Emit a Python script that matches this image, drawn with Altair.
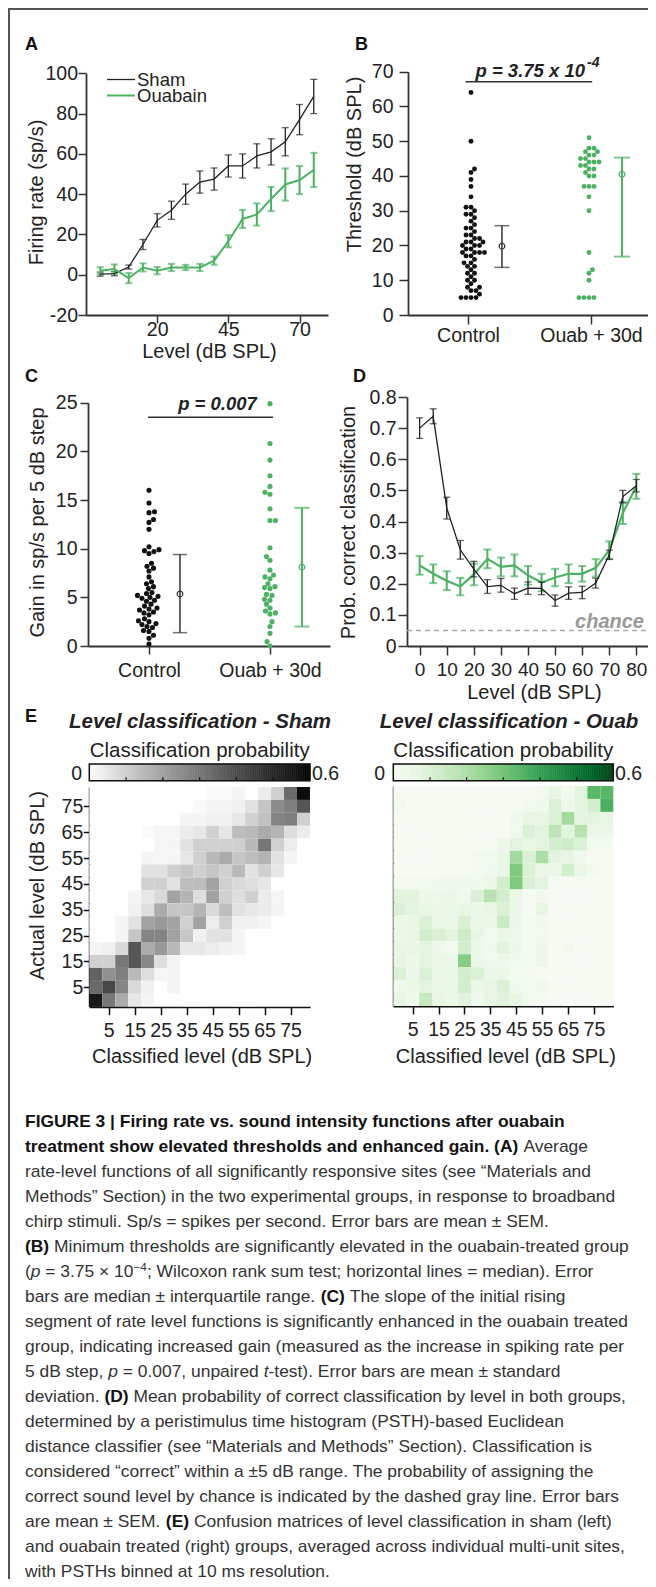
import altair as alt
import numpy as np
import pandas as pd

W, H = 640, 1571
FONT = "Liberation Sans"
CAP_FONT = "Liberation Sans"
BLACK = "#222222"
GREEN = "#4cb162"

# ---------------- data ----------------
A_LEVEL = [0, 5, 10, 15, 20, 25, 30, 35, 40, 45, 50, 55, 60, 65, 70, 75]
A_SHAM = [0.3, 0.5, 3.8, 15.0, 27.0, 32.0, 40.0, 46.0, 47.5, 54.0, 54.0, 59.0, 61.0, 66.0, 77.0, 88.5]
A_SHAM_ERR = [1.0, 1.0, 1.0, 2.5, 3.3, 4.5, 5.0, 5.5, 5.5, 5.5, 6.0, 6.0, 6.5, 7.0, 7.5, 8.5]
A_OUAB = [2.0, 2.8, -1.7, 3.6, 2.0, 3.6, 3.6, 3.6, 7.0, 16.6, 27.7, 29.9, 37.6, 44.8, 47.0, 52.0]
A_OUAB_ERR = [1.7, 2.3, 2.5, 2.0, 1.8, 1.8, 1.3, 1.8, 2.0, 3.0, 4.5, 5.5, 6.0, 8.0, 7.0, 8.5]

B_CTRL = [64, 50, 42, 41, 39, 37, 34, 31, 31, 30, 29, 29, 28, 27, 26, 25, 25, 24, 23, 23, 22, 22,
          21, 21, 21, 20, 20, 20, 19, 19, 18, 18, 18, 18, 17, 17, 16, 15, 15, 14, 14, 13, 12, 12,
          11, 10, 10, 9, 8, 8, 7, 7, 6, 5, 5, 5, 5]
B_OUAB = [51, 48, 48, 47, 47, 46, 46, 45, 45, 44, 44, 44, 43, 43, 42, 42, 41, 40, 40, 37, 37, 37,
          34, 30, 18, 13, 12, 10, 5, 5, 5, 5]
B_SUMMARY = {"ctrl": (19.8, 13.7, 25.7), "ouab": (40.5, 16.8, 45.3)}   # median, q1, q3

C_CTRL = [16.0, 14.7, 13.8, 13.7, 13.0, 12.7, 12.0, 10.2, 9.9, 9.8, 9.7, 9.5, 8.5, 8.2, 8.0, 7.7,
          7.1, 6.6, 6.4, 6.1, 5.9, 5.5, 5.4, 5.2, 5.1, 5.0, 4.9, 4.7, 4.6, 4.3, 4.1, 3.9, 3.8, 3.7,
          3.5, 3.4, 3.2, 2.8, 2.6, 2.5, 2.3, 2.2, 2.0, 1.9, 1.6, 1.5, 1.1, 0.8, 0.2]
C_OUAB = [24.9, 20.8, 19.1, 17.5, 16.4, 15.8, 15.6, 14.1, 12.9, 12.9, 10.1, 9.2, 8.8, 7.8, 7.3,
          7.1, 6.9, 6.4, 6.1, 6.0, 5.9, 5.3, 5.2, 4.8, 4.7, 4.3, 3.9, 3.6, 3.4, 3.3, 2.5, 2.0,
          1.3, 0.45, 0.0]
C_SUMMARY = {"ctrl": (5.35, 1.37, 9.4), "ouab": (8.1, 2.0, 14.2)}   # mean, mean-sd, mean+sd

D_LEVEL = [0, 5, 10, 15, 20, 25, 30, 35, 40, 45, 50, 55, 60, 65, 70, 75, 80]
D_SHAM = [0.70, 0.738, 0.443, 0.309, 0.247, 0.191, 0.195, 0.168, 0.186, 0.185, 0.146, 0.17,
          0.172, 0.202, 0.293, 0.48, 0.515]
D_SHAM_ERR = [0.033, 0.024, 0.035, 0.03, 0.025, 0.022, 0.022, 0.018, 0.02, 0.02, 0.018, 0.02,
              0.02, 0.016, 0.015, 0.02, 0.02]
D_OUAB = [0.259, 0.232, 0.21, 0.191, 0.23, 0.28, 0.254, 0.259, 0.227, 0.204, 0.22, 0.232,
          0.232, 0.251, 0.308, 0.427, 0.513]
D_OUAB_ERR = [0.03, 0.03, 0.03, 0.028, 0.035, 0.03, 0.03, 0.035, 0.03, 0.028, 0.028, 0.03,
              0.025, 0.028, 0.028, 0.035, 0.04]
CHANCE = 0.05

CM_LEVELS = list(range(0, 85, 5))
# rows listed from actual level 80 (top) down to 0; columns classified 0..80
SHAM_CM = [
    [0, 0, 0, 0, 0, 0, 0, 0, 0, 0.01, 0.01, 0.02, 0, 0.04, 0.10, 0.33, 0.58],
    [0, 0, 0, 0, 0, 0, 0, 0, 0.01, 0.02, 0.02, 0.03, 0.06, 0.12, 0.25, 0.28, 0.38],
    [0, 0, 0, 0, 0, 0, 0, 0.02, 0.02, 0.03, 0.03, 0.05, 0.10, 0.13, 0.27, 0.28, 0.10],
    [0, 0, 0, 0, 0.01, 0.02, 0.02, 0.04, 0.05, 0.10, 0.05, 0.14, 0.15, 0.18, 0.16, 0.07, 0.04],
    [0, 0, 0, 0, 0, 0.02, 0.02, 0.06, 0.10, 0.10, 0.10, 0.10, 0.15, 0.30, 0.10, 0.04, 0],
    [0, 0, 0, 0, 0.02, 0.02, 0.02, 0.05, 0.10, 0.15, 0.18, 0.12, 0.14, 0.16, 0.06, 0.02, 0],
    [0, 0, 0, 0, 0.06, 0.06, 0.10, 0.12, 0.10, 0.12, 0.10, 0.15, 0.06, 0.10, 0.05, 0, 0],
    [0, 0, 0, 0, 0.10, 0.10, 0.06, 0.14, 0.14, 0.20, 0.10, 0.08, 0.07, 0.05, 0, 0, 0],
    [0, 0, 0, 0.02, 0.05, 0.08, 0.20, 0.16, 0.07, 0.20, 0.10, 0.07, 0.10, 0.04, 0.02, 0, 0],
    [0, 0, 0, 0.03, 0.07, 0.18, 0.12, 0.12, 0.16, 0.08, 0.14, 0.06, 0.05, 0.04, 0.02, 0, 0],
    [0, 0, 0.02, 0.06, 0.20, 0.22, 0.20, 0.10, 0.20, 0.04, 0.10, 0.03, 0.03, 0.02, 0, 0, 0],
    [0, 0, 0.02, 0.12, 0.27, 0.27, 0.20, 0.12, 0.03, 0.06, 0.06, 0.02, 0, 0, 0, 0, 0],
    [0.02, 0.03, 0.08, 0.38, 0.18, 0.22, 0.15, 0.05, 0.05, 0.04, 0.03, 0.02, 0, 0, 0, 0, 0],
    [0.10, 0.10, 0.30, 0.38, 0.26, 0.07, 0.02, 0, 0, 0, 0, 0, 0, 0, 0, 0, 0],
    [0.35, 0.24, 0.28, 0.15, 0.07, 0.02, 0.02, 0, 0, 0, 0, 0, 0, 0, 0, 0, 0],
    [0.33, 0.42, 0.27, 0.08, 0.03, 0, 0.02, 0, 0, 0, 0, 0, 0, 0, 0, 0, 0],
    [0.55, 0.30, 0.18, 0.05, 0.02, 0, 0, 0, 0, 0, 0, 0, 0, 0, 0, 0, 0],
]
OUAB_CM = [
    [0.01, 0.01, 0.01, 0.01, 0.01, 0.01, 0.01, 0.01, 0.01, 0.01, 0.01, 0.02, 0.06, 0.02, 0.08, 0.34, 0.34],
    [0.02, 0.01, 0.01, 0.01, 0.01, 0.01, 0.01, 0.01, 0.01, 0.01, 0.02, 0.03, 0.10, 0.04, 0.08, 0.12, 0.36],
    [0.01, 0.01, 0.01, 0.01, 0.01, 0.01, 0.01, 0.01, 0.01, 0.03, 0.06, 0.06, 0.10, 0.22, 0.08, 0.08, 0.06],
    [0.01, 0.01, 0.01, 0.01, 0.01, 0.01, 0.01, 0.01, 0.01, 0.03, 0.10, 0.08, 0.17, 0.08, 0.18, 0.05, 0.04],
    [0.01, 0.01, 0.01, 0.01, 0.01, 0.01, 0.01, 0.01, 0.04, 0.08, 0.06, 0.08, 0.12, 0.13, 0.10, 0.02, 0.02],
    [0.01, 0.01, 0.01, 0.01, 0.01, 0.01, 0.02, 0.03, 0.05, 0.22, 0.10, 0.20, 0.08, 0.06, 0.03, 0.01, 0.01],
    [0.01, 0.01, 0.01, 0.01, 0.01, 0.01, 0.02, 0.03, 0.05, 0.28, 0.10, 0.04, 0.05, 0.12, 0.05, 0.02, 0.01],
    [0.02, 0.02, 0.02, 0.03, 0.03, 0.03, 0.03, 0.05, 0.12, 0.28, 0.10, 0.08, 0.01, 0.01, 0.01, 0.01, 0.01],
    [0.08, 0.08, 0.04, 0.04, 0.05, 0.03, 0.10, 0.18, 0.12, 0.05, 0.01, 0.02, 0.01, 0.01, 0.01, 0.01, 0.01],
    [0.10, 0.08, 0.06, 0.04, 0.05, 0.06, 0.05, 0.06, 0.10, 0.05, 0.01, 0.06, 0.01, 0.01, 0.01, 0.01, 0.01],
    [0.05, 0.06, 0.10, 0.05, 0.05, 0.10, 0.05, 0.05, 0.14, 0.04, 0.02, 0.03, 0.01, 0.01, 0.01, 0.01, 0.01],
    [0.05, 0.06, 0.12, 0.10, 0.08, 0.13, 0.06, 0.03, 0.05, 0.04, 0.02, 0.03, 0.01, 0.01, 0.01, 0.01, 0.01],
    [0.06, 0.06, 0.08, 0.04, 0.02, 0.12, 0.05, 0.03, 0.08, 0.04, 0.02, 0.04, 0.01, 0.02, 0.01, 0.01, 0.01],
    [0.06, 0.04, 0.08, 0.05, 0.05, 0.27, 0.05, 0.03, 0.04, 0.03, 0.02, 0.04, 0.01, 0.01, 0.01, 0.01, 0.01],
    [0.10, 0.04, 0.10, 0.05, 0.05, 0.12, 0.10, 0.05, 0.05, 0.02, 0.03, 0.01, 0.01, 0.01, 0.01, 0.01, 0.01],
    [0.03, 0.05, 0.08, 0.05, 0.05, 0.12, 0.05, 0.06, 0.10, 0.03, 0.03, 0.03, 0.01, 0.01, 0.01, 0.01, 0.01],
    [0.06, 0.03, 0.15, 0.06, 0.05, 0.08, 0.03, 0.06, 0.08, 0.06, 0.02, 0.02, 0.01, 0.01, 0.01, 0.01, 0.01],
]
CBAR_MAX = 0.6
CBAR_TICKS = [0.1, 0.2, 0.3, 0.4, 0.5]
GREENS = ["#f7fcf5", "#e5f5e0", "#c7e9c0", "#a1d99b", "#74c476", "#41ab5d", "#238b45", "#006d2c",
          "#00441b"]

CAPTION = [
    [("FIGURE 3 | Firing rate vs. sound intensity functions after ouabain", "b")],
    [("treatment show elevated thresholds and enhanced gain. (A)", "b"), (" Average", "r")],
    [("rate-level functions of all significantly responsive sites (see \u201cMaterials and", "r")],
    [("Methods\u201d Section) in the two experimental groups, in response to broadband", "r")],
    [("chirp stimuli. Sp/s = spikes per second. Error bars are mean \u00b1 SEM.", "r")],
    [("(B)", "b"), (" Minimum thresholds are significantly elevated in the ouabain-treated group", "r")],
    [("(", "r"), ("p", "i"), (" = 3.75 \u00d7 10", "r"), ("\u22124", "s"),
     ("; Wilcoxon rank sum test; horizontal lines = median). Error", "r")],
    [("bars are median \u00b1 interquartile range. ", "r"), ("(C)", "b"),
     (" The slope of the initial rising", "r")],
    [("segment of rate level functions is significantly enhanced in the ouabain treated", "r")],
    [("group, indicating increased gain (measured as the increase in spiking rate per", "r")],
    [("5 dB step, ", "r"), ("p", "i"), (" = 0.007, unpaired ", "r"), ("t", "i"),
     ("-test). Error bars are mean \u00b1 standard", "r")],
    [("deviation. ", "r"), ("(D)", "b"),
     (" Mean probability of correct classification by level in both groups,", "r")],
    [("determined by a peristimulus time histogram (PSTH)-based Euclidean", "r")],
    [("distance classifier (see \u201cMaterials and Methods\u201d Section). Classification is", "r")],
    [("considered \u201ccorrect\u201d within a \u00b15 dB range. The probability of assigning the", "r")],
    [("correct sound level by chance is indicated by the dashed gray line. Error bars", "r")],
    [("are mean \u00b1 SEM. ", "r"), ("(E)", "b"),
     (" Confusion matrices of level classification in sham (left)", "r")],
    [("and ouabain treated (right) groups, averaged across individual multi-unit sites,", "r")],
    [("with PSTHs binned at 10 ms resolution.", "r")],
]

# ---------------- layout (plot rectangles, chart pixel coords) ----------------
PA = dict(xd=[-5, 80], xr=[78, 320], yd=[-20, 100], yr=[307, 65.3])
PB = dict(xd=[-0.488, 1.48], xr=[400, 642], yd=[0, 70], yr=[307, 63.7])
PC = dict(xd=[-0.504, 1.496], xr=[80, 322], yd=[0, 25], yr=[638, 394.7])
PD = dict(xd=[-4.67, 84.3], xr=[399, 640], yd=[0, 0.8], yr=[638, 389])
PEL = dict(xd=[-2.5, 82.5], xr=[81.3, 302], yd=[-2.5, 82.5], yr=[998.7, 779])
PER = dict(xd=[-2.5, 82.5], xr=[385.3, 605.3], yd=[-2.5, 82.5], yr=[998, 778])
CB_Y = (756, 772.7)


def sc(dom, rng):
    return alt.Scale(domain=list(dom), range=list(rng), nice=False, zero=False)


def X(f, P, axis=None):
    return alt.X(f"{f}:Q", scale=sc(P["xd"], P["xr"]), axis=axis)


def Y(f, P, axis=None):
    return alt.Y(f"{f}:Q", scale=sc(P["yd"], P["yr"]), axis=axis)


AXBASE = dict(domainColor="#333333", domainWidth=1.8, tickColor="#333333", tickWidth=1.5,
              labelFont=FONT, labelFontSize=19.5, labelColor="#222222",
              titleFont=FONT, titleFontSize=20, titleFontWeight="normal", titleColor="#222222",
              grid=False, labelOverlap=False, labelFlush=False)


def axis_left(ax_x, values=None, title=None, tx=0, ty=0, tick=8, pad=1, **kw):
    d = dict(AXBASE)
    d.update(kw)
    args = dict(orient="left", offset=-ax_x, tickSize=tick, labelPadding=pad, **d)
    if values is not None:
        args["values"] = values
    if title is None:
        args["title"] = None
    else:
        args.update(title=title, titleX=tx, titleY=ty, titleAngle=270,
                    titleAlign="center", titleBaseline="middle")
    return alt.Axis(**args)


def axis_bottom(ax_y, values, title=None, tx=0, ty=0, tick=8, pad=1, **kw):
    d = dict(AXBASE)
    d.update(kw)
    args = dict(orient="bottom", offset=ax_y - H, values=values, tickSize=tick,
                labelPadding=pad, labelBaseline="top", **d)
    if title is None:
        args["title"] = None
    else:
        args.update(title=title, titleX=tx, titleY=ty, titleAlign="center", titleBaseline="middle")
    return alt.Axis(**args)


def text(t, x, y, size, weight="normal", style="normal", align="left", color=BLACK,
         font=FONT, baseline="alphabetic"):
    return alt.Chart(pd.DataFrame({"t": [t]})).mark_text(
        align=align, baseline=baseline, fontSize=size, fontWeight=weight, fontStyle=style,
        color=color, font=font).encode(text="t:N", x=alt.value(x), y=alt.value(y))


def swarm(values, ypx, d, step=0.5):
    placed = []
    res = [0.0] * len(values)
    order = np.argsort(np.array(values, dtype=float), kind="stable")
    flip = 1
    for i in order:
        yv = values[i] * ypx
        k = 0
        found = None
        while found is None:
            cands = [0.0] if k == 0 else [flip * k * step, -flip * k * step]
            for o in cands:
                if all((o - px) ** 2 + (yv - py) ** 2 >= d * d for px, py in placed):
                    found = o
                    break
            k += 1
        flip = -flip
        placed.append((found, yv))
        res[i] = found
    return res


layers = []

# ---------------- frame ----------------
one = pd.DataFrame({"a": [0]})
layers.append(alt.Chart(one).mark_rule(color="#555555", strokeWidth=2).encode(
    x=alt.value(0), x2=alt.value(W), y=alt.value(1)))
layers.append(alt.Chart(one).mark_rule(color="#555555", strokeWidth=2).encode(
    x=alt.value(1), y=alt.value(0), y2=alt.value(H)))

# ---------------- panel letters ----------------
for t, x, y in [("A", 17, 42), ("B", 347, 42), ("C", 17, 374), ("D", 345, 374), ("E", 17, 714)]:
    layers.append(text(t, x, y, 18, weight="bold", color="#111111"))


def err_layers(df, P, xf, color, width, cap):
    out = []
    out.append(alt.Chart(df).mark_rule(color=color, strokeWidth=width).encode(
        x=X(xf, P), y=Y("lo", P), y2="hi"))
    caps = pd.concat([df.assign(c=df["lo"]), df.assign(c=df["hi"])])
    out.append(alt.Chart(caps).mark_tick(orient="horizontal", size=cap, thickness=width,
                                         color=color).encode(x=X(xf, P), y=Y("c", P)))
    return out


# ---------------- Panel A ----------------
axA_x = axis_bottom(307, [20, 45, 70], "Level (dB SPL)", tx=201, ty=36, tick=8, pad=-2.5)
axA_y = axis_left(78, [-20, 0, 20, 40, 60, 80, 100], "Firing rate (sp/s)", tx=-50, ty=184,
                  tick=8, pad=0.5,
                  labelExpr="datum.value < 0 ? '-' + abs(datum.value) : '' + datum.value")
dA_s = pd.DataFrame({"lv": A_LEVEL, "v": A_SHAM, "e": A_SHAM_ERR})
dA_s["lo"], dA_s["hi"] = dA_s.v - dA_s.e, dA_s.v + dA_s.e
dA_o = pd.DataFrame({"lv": A_LEVEL, "v": A_OUAB, "e": A_OUAB_ERR})
dA_o["lo"], dA_o["hi"] = dA_o.v - dA_o.e, dA_o.v + dA_o.e
layers += err_layers(dA_s, PA, "lv", BLACK, 1.3, 7)
layers += err_layers(dA_o, PA, "lv", GREEN, 2, 7)
layers.append(alt.Chart(dA_s).mark_line(color=BLACK, strokeWidth=1.3).encode(
    x=X("lv", PA, axA_x), y=Y("v", PA, axA_y)))
layers.append(alt.Chart(dA_o).mark_line(color=GREEN, strokeWidth=2).encode(
    x=X("lv", PA), y=Y("v", PA)))
leg = pd.DataFrame({"name": ["Sham", "Ouabain"]})
legy = alt.Y("name:N", scale=alt.Scale(type="point", domain=["Sham", "Ouabain"],
                                       range=[71.5, 87.5], padding=0), axis=None)
layers.append(alt.Chart(leg).mark_rule().encode(
    x=alt.value(99), x2=alt.value(127), y=legy,
    color=alt.Color("name:N", scale=alt.Scale(domain=["Sham", "Ouabain"], range=[BLACK, GREEN]),
                    legend=None),
    strokeWidth=alt.StrokeWidth("name:N", scale=alt.Scale(domain=["Sham", "Ouabain"],
                                                          range=[1.3, 2]), legend=None)))
layers.append(alt.Chart(leg).mark_text(align="left", baseline="middle", fontSize=18.5, font=FONT,
                                       color=BLACK).encode(text="name:N", x=alt.value(129), y=legy))

# ---------------- Panel B ----------------
lab_expr = "datum.value == 0 ? 'Control' : 'Ouab + 30d'"
axB_x = axis_bottom(307, [0, 1], None, tick=9, pad=2.6, labelExpr=lab_expr)
axB_y = axis_left(400, [0, 10, 20, 30, 40, 50, 60, 70], "Threshold (dB SPL)", tx=-54, ty=156,
                  tick=9, pad=6)
bpx_x, bpx_y = 123.0, 243.3 / 70
dB_c = pd.DataFrame({"v": B_CTRL})
dB_c["x"] = 0 + (3 + np.array(swarm(B_CTRL, bpx_y, 4.6))) / bpx_x
dB_o = pd.DataFrame({"v": B_OUAB})
dB_o["x"] = 1 + (-2 + np.array(swarm(B_OUAB, bpx_y, 4.6))) / bpx_x
layers.append(alt.Chart(dB_c).mark_circle(size=24, color="#111111", opacity=1).encode(
    x=X("x", PB, axB_x), y=Y("v", PB, axB_y)))
layers.append(alt.Chart(dB_o).mark_circle(size=24, color=GREEN, opacity=1).encode(
    x=X("x", PB), y=Y("v", PB)))
for key, xpos, col, w, cap in [("ctrl", 0.276, "#333333", 1.5, 15), ("ouab", 1.252, GREEN, 2, 16)]:
    m, lo, hi = B_SUMMARY[key]
    de = pd.DataFrame({"x": [xpos], "m": [m], "lo": [lo], "hi": [hi]})
    layers += err_layers(de, PB, "x", col, w, cap)
    layers.append(alt.Chart(de).mark_point(shape="circle", filled=False, size=32, strokeWidth=1.2,
                                           color=col, opacity=1).encode(x=X("x", PB), y=Y("m", PB)))
brB = pd.DataFrame({"x1": [-0.02], "x2": [1.01], "y": [67.1]})
layers.append(alt.Chart(brB).mark_rule(color="#333333", strokeWidth=1.5).encode(
    x=X("x1", PB), x2="x2", y=Y("y", PB)))
layers.append(text("p = 3.75 x 10", 577, 68.7, 18.5, weight="bold", style="italic",
                   align="right", color="#222222"))
layers.append(text("-4", 579, 58.7, 14, weight="bold", style="italic", color="#222222"))

# ---------------- Panel C ----------------
axC_x = axis_bottom(638, [0, 1], None, tick=8, pad=7.3, labelExpr=lab_expr)
axC_y = axis_left(80, [0, 5, 10, 15, 20, 25], "Gain in sp/s per 5 dB step", tx=-51, ty=514,
                  tick=8, pad=3)
cpx_x, cpx_y = 121.0, 243.3 / 25
dC_c = pd.DataFrame({"v": C_CTRL})
dC_c["x"] = 0 + np.array(swarm(C_CTRL, cpx_y, 5.2)) / cpx_x
dC_o = pd.DataFrame({"v": C_OUAB})
dC_o["x"] = 1 + np.array(swarm(C_OUAB, cpx_y, 5.2)) / cpx_x
layers.append(alt.Chart(dC_c).mark_circle(size=26, color="#111111", opacity=1).encode(
    x=X("x", PC, axC_x), y=Y("v", PC, axC_y)))
layers.append(alt.Chart(dC_o).mark_circle(size=26, color=GREEN, opacity=1).encode(
    x=X("x", PC), y=Y("v", PC)))
for key, xpos, col, w, cap in [("ctrl", 0.256, "#333333", 1.5, 14), ("ouab", 1.264, GREEN, 2, 15)]:
    m, lo, hi = C_SUMMARY[key]
    de = pd.DataFrame({"x": [xpos], "m": [m], "lo": [lo], "hi": [hi]})
    layers += err_layers(de, PC, "x", col, w, cap)
    layers.append(alt.Chart(de).mark_point(shape="circle", filled=False, size=32, strokeWidth=1.2,
                                           color=col, opacity=1).encode(x=X("x", PC), y=Y("m", PC)))
brC = pd.DataFrame({"x1": [-0.008], "x2": [1.025], "y": [23.5]})
layers.append(alt.Chart(brC).mark_rule(color="#333333", strokeWidth=1.5).encode(
    x=X("x1", PC), x2="x2", y=Y("y", PC)))
layers.append(text("p = 0.007", 209.5, 401.5, 18.5, weight="bold", style="italic",
                   align="center", color="#222222"))

# ---------------- Panel D ----------------
axD_x = axis_bottom(638, list(range(0, 90, 10)), "Level (dB SPL)", tx=526, ty=46, tick=9, pad=5.6,
                    labelFontSize=19)
axD_y = axis_left(399, [0, 0.1, 0.2, 0.3, 0.4, 0.5, 0.6, 0.7, 0.8], "Prob. correct classification",
                  tx=-59, ty=514, tick=9, pad=2,
                  labelExpr="datum.value == 0 ? '0' : format(datum.value, '.1f')")
dD_s = pd.DataFrame({"lv": D_LEVEL, "v": D_SHAM, "e": D_SHAM_ERR})
dD_s["lo"], dD_s["hi"] = dD_s.v - dD_s.e, dD_s.v + dD_s.e
dD_o = pd.DataFrame({"lv": D_LEVEL, "v": D_OUAB, "e": D_OUAB_ERR})
dD_o["lo"], dD_o["hi"] = dD_o.v - dD_o.e, dD_o.v + dD_o.e
chance = pd.DataFrame({"x1": [PD["xd"][0]], "x2": [PD["xd"][1]], "y": [CHANCE]})
layers.append(alt.Chart(chance).mark_rule(color="#aaaaaa", strokeWidth=1.5, strokeDash=[5, 4]).encode(
    x=X("x1", PD), x2="x2", y=Y("y", PD)))
layers.append(text("chance", 636, 620, 20, weight="bold", style="italic", align="right",
                   color="#999999"))
layers += err_layers(dD_o, PD, "lv", GREEN, 2, 8)
layers.append(alt.Chart(dD_o).mark_line(color=GREEN, strokeWidth=2.2).encode(
    x=X("lv", PD), y=Y("v", PD)))
layers += err_layers(dD_s, PD, "lv", BLACK, 1.3, 7)
layers.append(alt.Chart(dD_s).mark_line(color=BLACK, strokeWidth=1.3).encode(
    x=X("lv", PD, axD_x), y=Y("v", PD, axD_y)))


# ---------------- Panel E ----------------
def cm_frame(rows):
    recs = []
    for r, row in enumerate(rows):
        act = 80 - 5 * r
        for c, v in enumerate(row):
            cl = CM_LEVELS[c]
            recs.append({"x1": cl - 2.5, "x2": cl + 2.5, "y1": act - 2.5, "y2": act + 2.5, "p": v})
    return pd.DataFrame(recs)


GRAY_SCALE = alt.Scale(domain=[0, CBAR_MAX], range=["#ffffff", "#000000"], clamp=True)
GREEN_SCALE = alt.Scale(domain=list(np.linspace(0, CBAR_MAX, len(GREENS))), range=GREENS,
                        clamp=True, interpolate="rgb")
HEAT_AX = dict(domainColor="#111111", domainWidth=2, tickColor="#111111")
ticks_E = list(range(5, 80, 10))

for P, rows, cscale, title, tcx, cb_title_x, lab0_x, lab6_x, left_title in [
        (PEL, SHAM_CM, GRAY_SCALE, "Level classification - Sham", 192, 191.7, 74, 304, True),
        (PER, OUAB_CM, GREEN_SCALE, "Level classification - Ouab", 501, 495.3, 377, 607, False)]:
    ax_y_pos = P["yr"][0]
    ax_x = axis_bottom(ax_y_pos, ticks_E, "Classified level (dB SPL)",
                       tx=(P["xr"][0] + P["xr"][1]) / 2 + 2, ty=50, tick=8, pad=6.9, **HEAT_AX)
    if left_title:
        ax_y = axis_left(P["xr"][0], ticks_E, "Actual level (dB SPL)", tx=-51.8, ty=877,
                         tick=6, pad=0.5, **HEAT_AX)
    else:
        ax_y = axis_left(P["xr"][0], None, None, tick=6, pad=0.5, labels=False, ticks=False, **HEAT_AX)
    dcm = cm_frame(rows)
    layers.append(alt.Chart(dcm).mark_rect().encode(
        x=X("x1", P, ax_x), x2="x2", y=Y("y1", P, ax_y), y2="y2",
        color=alt.Color("p:Q", scale=cscale, legend=None)))
    layers.append(text(title, tcx, 720, 20.5, weight="bold", style="italic", align="center",
                       color="#222222"))
    layers.append(text("Classification probability", cb_title_x, 749, 20.5, align="center",
                       color="#222222"))
    # colour bar
    cbx = sc([0, CBAR_MAX], P["xr"])
    edges = np.linspace(0, CBAR_MAX, 121)
    grad = pd.DataFrame({"a": edges[:-1], "b": edges[1:], "m": (edges[:-1] + edges[1:]) / 2})
    layers.append(alt.Chart(grad).mark_rect(strokeWidth=0.6).encode(
        x=alt.X("a:Q", scale=cbx, axis=None), x2="b",
        y=alt.value(CB_Y[0]), y2=alt.value(CB_Y[1]),
        color=alt.Color("m:Q", scale=cscale, legend=None),
        stroke=alt.Stroke("m:Q", scale=cscale, legend=None)))
    border = pd.DataFrame({"a": [0], "b": [CBAR_MAX]})
    layers.append(alt.Chart(border).mark_rect(filled=False, color="#111111", strokeWidth=1.5).encode(
        x=alt.X("a:Q", scale=cbx, axis=None), x2="b",
        y=alt.value(CB_Y[0]), y2=alt.value(CB_Y[1])))
    tk = pd.DataFrame({"v": CBAR_TICKS})
    layers.append(alt.Chart(tk).mark_rule(color="#111111", strokeWidth=1.2).encode(
        x=alt.X("v:Q", scale=cbx, axis=None), y=alt.value(CB_Y[1]), y2=alt.value(CB_Y[1] - 3.5)))
    layers.append(text("0", lab0_x, 772, 19.5, align="right"))
    layers.append(text("0.6", lab6_x, 772, 19.5, align="left"))

# ---------------- Caption ----------------
REG_W = {' ': 278, '!': 278, '"': 355, '(': 333, ')': 333, '+': 584, ',': 278, '-': 333, '.': 278,
         '/': 278, ':': 278, ';': 278, '=': 584, '|': 260, '\u201c': 333, '\u201d': 333,
         '\u00b1': 584, '\u00d7': 584, '\u2212': 584,
         'A': 667, 'B': 667, 'C': 722, 'D': 722, 'E': 667, 'F': 611, 'G': 778, 'H': 722, 'I': 278,
         'J': 500, 'K': 667, 'L': 556, 'M': 833, 'N': 722, 'O': 778, 'P': 667, 'Q': 778, 'R': 722,
         'S': 667, 'T': 611, 'U': 722, 'V': 667, 'W': 944, 'X': 667, 'Y': 667, 'Z': 611,
         'a': 556, 'b': 556, 'c': 500, 'd': 556, 'e': 556, 'f': 278, 'g': 556, 'h': 556, 'i': 222,
         'j': 222, 'k': 500, 'l': 222, 'm': 833, 'n': 556, 'o': 556, 'p': 556, 'q': 556, 'r': 333,
         's': 500, 't': 278, 'u': 556, 'v': 500, 'w': 722, 'x': 500, 'y': 500, 'z': 500}
BOLD_W = {' ': 278, '(': 333, ')': 333, ',': 278, '-': 333, '.': 278, '|': 280, '=': 584,
          'A': 722, 'B': 722, 'C': 722, 'D': 722, 'E': 667, 'F': 611, 'G': 778, 'H': 722, 'I': 278,
          'R': 722, 'S': 667, 'T': 611, 'U': 722,
          'a': 556, 'b': 611, 'c': 556, 'd': 611, 'e': 556, 'f': 333, 'g': 611, 'h': 611, 'i': 278,
          'j': 278, 'k': 556, 'l': 278, 'm': 889, 'n': 611, 'o': 611, 'p': 611, 'q': 611, 'r': 389,
          's': 556, 't': 333, 'u': 611, 'v': 556, 'w': 778, 'x': 556, 'y': 556, 'z': 500}
SUP = 0.68
CAP_X0, CAP_Y0, CAP_DY = 17, 1118.5, 25


def tw(s, style, size):
    table = BOLD_W if style == "b" else REG_W
    return sum(table.get(ch, 556) for ch in s) / 1000.0 * size


line_em = [sum(tw(s, st, SUP if st == "s" else 1.0) for s, st in segs) for segs in CAPTION]
CAP_SIZE = min(18.5, 604.0 / max(line_em))

cap_rows = {"r": [], "b": [], "i": [], "s": []}
for li, segs in enumerate(CAPTION):
    x = CAP_X0
    y = CAP_Y0 + CAP_DY * li
    for s, st in segs:
        size = CAP_SIZE * SUP if st == "s" else CAP_SIZE
        lead = len(s) - len(s.lstrip(" "))
        if lead:
            x += tw(" " * lead, st, size)
            s = s.lstrip(" ")
        cap_rows[st].append({"x": x, "y": y - (6 if st == "s" else 0), "t": s})
        x += tw(s, st, size)

pix_x = alt.Scale(domain=[0, W], range=[0, W], nice=False, zero=False)
pix_y = alt.Scale(domain=[0, H], range=[0, H], nice=False, zero=False)
for st, weight, style, color, size in [("r", "normal", "normal", "#333333", CAP_SIZE),
                                       ("b", "bold", "normal", "#111111", CAP_SIZE),
                                       ("i", "normal", "italic", "#333333", CAP_SIZE),
                                       ("s", "normal", "normal", "#333333", CAP_SIZE * SUP)]:
    if not cap_rows[st]:
        continue
    layers.append(alt.Chart(pd.DataFrame(cap_rows[st])).mark_text(
        align="left", baseline="alphabetic", font=CAP_FONT, fontSize=size, fontWeight=weight,
        fontStyle=style, color=color).encode(
        x=alt.X("x:Q", scale=pix_x, axis=None), y=alt.Y("y:Q", scale=pix_y, axis=None),
        text="t:N"))

chart = alt.layer(*layers).resolve_scale(
    x="independent", y="independent", color="independent", stroke="independent",
    strokeWidth="independent").resolve_axis(x="independent", y="independent").properties(
    width=W, height=H, padding=0, autosize=alt.AutoSizeParams(type="none"),
    background="white").configure_view(stroke=None)

chart.save("out.html", embed_options={"renderer": "svg", "actions": False})
